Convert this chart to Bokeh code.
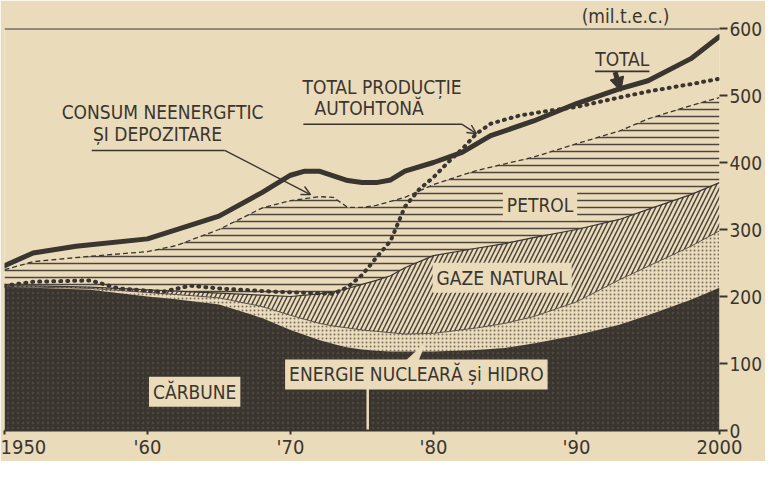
import numpy as np
from bokeh.plotting import figure
from bokeh.models import Range1d, FixedTicker, Span, Label, Arrow, NormalHead, OpenHead, Title
from bokeh.embed import file_html
from bokeh.resources import INLINE

# ---------------- data (mil. t.e.c.) ----------------
years = [1950, 1952, 1956, 1960, 1962, 1965, 1968, 1970, 1972, 1973, 1974, 1975,
         1976, 1977, 1978, 1980, 1983, 1985, 1987, 1990, 1993, 1995, 1998, 2000]
carbune = [214, 213, 210, 200, 196, 188, 168, 150, 135, 129, 124, 121,
           119, 118, 118, 118, 120, 123, 130, 142, 158, 172, 195, 213]
nuclear_hidro = [0, 1, 2, 6, 7, 10, 17, 22, 25, 27, 29, 29,
                 29, 28, 26, 27, 33, 37, 40, 50, 67, 73, 80, 85]
gaze = [2, 2, 2, 4, 5, 7, 17, 28, 44, 51, 59, 68,
        76, 85, 99, 116, 119, 119, 118, 108, 90, 85, 77, 72]
petrol = [24, 36, 46, 57, 68, 95, 130, 143, 145, 141, 121, 115,
          112, 111, 105, 106, 116, 119, 120, 128, 132, 135, 133, 127]

total_years = [1950, 1952, 1955, 1960, 1965, 1968, 1970, 1971, 1972, 1973, 1974, 1975,
               1976, 1977, 1978, 1980, 1982, 1984, 1987, 1990, 1993, 1995, 1998, 2000]
total = [246, 265, 275, 286, 320, 355, 381, 387, 387, 380, 373, 370,
         370, 374, 387, 400, 415, 440, 462, 488, 510, 522, 555, 588]

prod_years = [1950, 1952, 1956, 1958, 1961, 1963, 1965, 1969, 1973, 1974, 1975, 1976,
              1977, 1978, 1979, 1980, 1981, 1982, 1983, 1984, 1986, 1988, 1990, 1993,
              1995, 1998, 2000]
productie = [216, 222, 224, 212, 207, 216, 212, 207, 204, 214, 232, 258,
             283, 334, 360, 378, 400, 420, 443, 458, 470, 477, 483, 497,
             506, 517, 525]

x_ticks = [1950, 1960, 1970, 1980, 1990, 2000]
x_tick_labels = ["1950", "'60", "'70", "'80", "'90", "2000"]
y_ticks = [0, 100, 200, 300, 400, 500, 600]

# ---------------- style ----------------
BG = "#eadbbb"
INK = "#3b3530"
FONT = "DejaVu Sans Condensed"

p = figure(width=765, height=461, output_backend="svg", toolbar_location=None,
           x_range=Range1d(1950, 2000), y_range=Range1d(0, 600),
           y_axis_location="right",
           min_border_left=4, min_border_right=40, min_border_top=4, min_border_bottom=25,
           background_fill_color=BG, border_fill_color=BG, outline_line_color=None)
p.grid.visible = False

p.add_layout(Title(text="(mil.t.e.c.)", align="right", offset=50, standoff=4,
                   text_font=FONT, text_font_size="19px", text_font_style="normal",
                   text_color=INK), "above")

yr = np.array(years, dtype=float)
c1 = np.array(carbune, dtype=float)
c2 = c1 + np.array(nuclear_hidro)
c3 = c2 + np.array(gaze)
c4 = c3 + np.array(petrol)

# petrol (horizontal lines)
p.varea(x=yr, y1=c3, y2=c4, fill_color=BG, hatch_pattern="horizontal_line",
        hatch_color=INK, hatch_scale=7, hatch_weight=1.5, hatch_alpha=0.9)
# natural gas (diagonal lines)
p.varea(x=yr, y1=c2, y2=c3, fill_color=BG, hatch_pattern="right_diagonal_line",
        hatch_color=INK, hatch_scale=9, hatch_weight=1.5, hatch_alpha=0.9)
# nuclear & hydro (stipple)
p.varea(x=yr, y1=c1, y2=c2, fill_color=BG, hatch_pattern="dot",
        hatch_color=INK, hatch_scale=4, hatch_weight=1.3, hatch_alpha=0.65)
# coal (dark)
p.varea(x=yr, y1=0, y2=c1, fill_color=INK, hatch_pattern="dot",
        hatch_color="#5f5850", hatch_scale=5, hatch_weight=1, hatch_alpha=0.5)

p.line(yr, c2, line_color=INK, line_width=0.8)
p.line(yr, c3, line_color=INK, line_width=1.2)
p.line(yr, c4, line_color=INK, line_width=1.3, line_dash="5 3")

# top line at 600
p.add_layout(Span(location=600, dimension="width", line_color=INK, line_width=2))

# total consumption & domestic production
p.line(total_years, total, line_color=INK, line_width=5, line_cap="round", line_join="round")
p.line(prod_years, productie, line_color=INK, line_width=4, line_dash="1 6", line_cap="round")

# ---------------- axes ----------------
p.xaxis.ticker = FixedTicker(ticks=x_ticks)
p.xaxis.major_label_overrides = dict(zip(x_ticks, x_tick_labels))
p.xaxis.axis_line_color = INK
p.xaxis.axis_line_width = 2
p.xaxis.major_tick_line_color = INK
p.xaxis.major_tick_line_width = 2
p.xaxis.major_tick_out = 4
p.xaxis.major_tick_in = 0
p.xaxis.minor_tick_line_color = None
p.xaxis.major_label_standoff = 0
p.xaxis.major_label_text_font = FONT
p.xaxis.major_label_text_font_size = "20px"
p.xaxis.major_label_text_color = INK

p.yaxis.ticker = FixedTicker(ticks=y_ticks)
p.yaxis.axis_line_color = None
p.yaxis.major_tick_line_color = INK
p.yaxis.major_tick_line_width = 2
p.yaxis.major_tick_out = 8
p.yaxis.major_tick_in = 0
p.yaxis.minor_tick_line_color = None
p.yaxis.major_label_standoff = 2
p.yaxis.major_label_text_font = FONT
p.yaxis.major_label_text_font_size = "19px"
p.yaxis.major_label_text_color = INK

# ---------------- annotations ----------------
def lab(x, y, t, size="19px", bg=None, border=None):
    l = Label(x=x, y=y, text=t, text_font=FONT, text_font_size=size, text_color=INK,
              text_align="center", text_baseline="middle")
    if bg is not None:
        l.background_fill_color = bg
        l.padding = 4
    if border is not None:
        l.border_line_color = border
        l.border_line_width = 1
    p.add_layout(l)

lab(1961.05, 475, "CONSUM NEENERGFTIC")
lab(1960.7, 442, "ȘI DEPOZITARE")
lab(1976.4, 513, "TOTAL PRODUCȚIE")
lab(1975.5, 482, "AUTOHTONĂ")
lab(1993.2, 555, "TOTAL")
lab(1987.45, 336, "PETROL", bg=BG)
lab(1984.8, 228, "GAZE NATURAL", bg=BG)

# leaders
cons_x = [1956.1, 1965.4]
cons_y = [418, 418]
p.line(cons_x, cons_y, line_color=INK, line_width=1.6)
p.add_layout(Arrow(x_start=1965.4, y_start=418, x_end=1971.4, y_end=352,
                   line_color=INK, line_width=1.4,
                   end=OpenHead(size=9, line_color=INK, line_width=1.4)))
prod_lx = [1970.9, 1982.0]
prod_ly = [457, 457]
p.line(prod_lx, prod_ly, line_color=INK, line_width=1.6)
p.add_layout(Arrow(x_start=1982.0, y_start=457, x_end=1983.0, y_end=443,
                   line_color=INK, line_width=1.4,
                   end=OpenHead(size=9, line_color=INK, line_width=1.4)))
tot_ux = [1991.3, 1995.1]
tot_uy = [536, 536]
p.line(tot_ux, tot_uy, line_color=INK, line_width=1.6)
p.add_layout(Arrow(x_start=1992.7, y_start=535, x_end=1993.1, y_end=506,
                   line_color=INK, line_width=5,
                   end=NormalHead(size=14, fill_color=INK, line_color=INK)))

# callout for nuclear & hydro
p.patch([1977.9, 1978.9, 1979.5], [101, 101, 133], fill_color=BG, line_color=None)
p.line([1975.4, 1975.4], [0, 63], line_color=BG, line_width=2.5)
lab(1978.8, 83.6, "ENERGIE NUCLEARĂ și HIDRO", bg=BG)
lab(1963.3, 58, "CĂRBUNE", bg=BG)

open("out.html", "w").write(file_html(p, INLINE))
